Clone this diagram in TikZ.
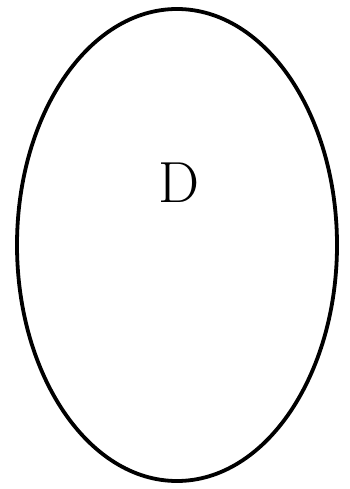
\documentclass[tikz,border=0pt]{standalone}
\begin{document}
\begin{tikzpicture}[x=1pt,y=-1pt,
  outline/.style={draw=black,line width=3.8pt},
  lbl/.style={font=\fontsize{58}{60}\selectfont, inner sep=0pt}]
\useasboundingbox (0,0) rectangle (350,489);
\draw[outline] (177,245) ellipse [x radius=160, y radius=236];
\node[lbl] (d) at (179,183) {D};
\end{tikzpicture}
\end{document}
